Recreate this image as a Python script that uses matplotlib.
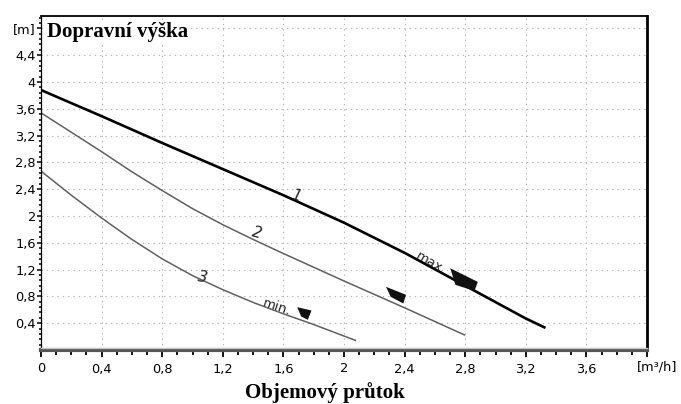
import numpy as np
import matplotlib
matplotlib.use("Agg")
import matplotlib.pyplot as plt
from matplotlib.path import Path
from matplotlib.ticker import MultipleLocator

# pump curves: flow [m3/h] -> head [m]
q1 = [0, 0.4, 0.8, 1.2, 1.6, 2.0, 2.4, 2.8, 3.2, 3.33]
h1 = [3.88, 3.49, 3.09, 2.70, 2.31, 1.90, 1.45, 0.96, 0.47, 0.33]
q2 = [0, 0.2, 0.4, 0.6, 0.8, 1.0, 1.2, 1.4, 1.6, 2.0, 2.4, 2.8]
h2 = [3.54, 3.25, 2.96, 2.66, 2.38, 2.11, 1.87, 1.65, 1.44, 1.03, 0.63, 0.22]
q3 = [0, 0.2, 0.4, 0.6, 0.8, 1.0, 1.2, 1.4, 1.6, 1.8, 2.08]
h3 = [2.67, 2.31, 1.97, 1.65, 1.36, 1.11, 0.90, 0.71, 0.54, 0.38, 0.14]

# operating point markers (max, curve 2, min)
mark_q = [2.795, 2.343, 1.734]
mark_h = [1.036, 0.825, 0.552]

x_ticks = [0, 0.4, 0.8, 1.2, 1.6, 2.0, 2.4, 2.8, 3.2, 3.6, 4.0]
x_labels = ["0", "0,4", "0,8", "1,2", "1,6", "2", "2,4", "2,8", "3,2", "3,6", ""]
y_ticks = [0.4, 0.8, 1.2, 1.6, 2.0, 2.4, 2.8, 3.2, 3.6, 4.0, 4.4, 4.8]
y_labels = ["0,4", "0,8", "1,2", "1,6", "2", "2,4", "2,8", "3,2", "3,6", "4", "4,4", "[m]"]

DPI = 100
PT = 72.0 / DPI

fig = plt.figure(figsize=(6.81, 4.04), dpi=DPI)
ax = fig.add_axes([41 / 681, 1 - 350 / 404, 606 / 681, 334 / 404])
ax.set_xlim(0, 4.0)
ax.set_ylim(0, 4.985)

ax.plot(q3, h3, color="#606060", lw=1.1, solid_capstyle="butt")
ax.plot(q2, h2, color="#606060", lw=1.1, solid_capstyle="butt")
ax.plot(q1, h1, color="black", lw=1.9, solid_capstyle="butt")

# trapezoid marker shapes in pixels relative to centre (y up)
shapes = [
    [(-14.3, 13.3), (13.3, -0.4), (10.0, -9.4), (-9.0, -3.4)],
    [(-10.5, 8.7), (9.5, 0.7), (6.8, -8.0), (-5.8, -1.3)],
    [(-7.3, 6.3), (7.0, 3.0), (3.3, -6.3), (-3.3, -3.0)],
]
for mq, mh, shp in zip(mark_q, mark_h, shapes):
    v = np.array(shp + [shp[0]]) * PT
    codes = [Path.MOVETO] + [Path.LINETO] * (len(shp) - 1) + [Path.CLOSEPOLY]
    size = 2 * np.abs(v).max()
    ax.plot([mq], [mh], ls="none", marker=Path(v, codes), markersize=size,
            color="#111111", markeredgewidth=0, zorder=4)

num_kw = dict(fontsize=11, color="#222222", ha="center", va="center", style="italic")
ax.text(1.684, 2.30, "1", rotation=-15, **num_kw)
ax.text(1.424, 1.75, "2", rotation=-15, **num_kw)
ax.text(1.068, 1.09, "3", rotation=-10, **num_kw)
lab_kw = dict(fontsize=9.5, color="#222222", ha="center", va="center")
ax.text(2.57, 1.30, "max.", rotation=-30, **lab_kw)
ax.text(1.556, 0.64, "min.", rotation=-18, **lab_kw)

ax.set_xticks(x_ticks)
ax.set_xticklabels(x_labels, fontsize=9.3)
ax.set_yticks(y_ticks)
ax.set_yticklabels(y_labels, fontsize=9.3)
ax.xaxis.set_minor_locator(MultipleLocator(0.1))
ax.yaxis.set_minor_locator(MultipleLocator(0.08))
ax.tick_params(axis="x", which="major", length=5, width=1.3, pad=4, colors="black")
ax.tick_params(axis="x", which="minor", length=3.5, width=1.3)
ax.tick_params(axis="y", which="major", length=3.2, width=1.1, pad=0.5)
ax.tick_params(axis="y", which="minor", length=1.8, width=1.1)

ax.grid(True, which="major", color="#b4b4b4", lw=0.8, linestyle=(0, (1.2, 3.6)))
ax.set_axisbelow(True)

ax.spines["left"].set_linewidth(0.9)
ax.spines["top"].set_linewidth(1.3)
ax.spines["right"].set_linewidth(2.0)
ax.spines["bottom"].set_linewidth(3.0)
ax.spines["bottom"].set_color("#555555")
ax.axhline(0.03, color="#c8c8c8", lw=0.9, zorder=5, clip_on=False)

ax.text(0.01, 0.937, "Dopravní výška", transform=ax.transAxes,
        family="Liberation Serif", weight="bold", fontsize=15,
        va="baseline", ha="left", zorder=6,
        bbox=dict(facecolor="white", edgecolor="none", pad=1.5))
fig.text(325 / 681, 6 / 404, "Objemový průtok", family="Liberation Serif",
         weight="bold", fontsize=15, ha="center", va="baseline")
fig.text(637 / 681, 1 - 361 / 404, "[m³/h]", fontsize=9.3, ha="left", va="top")

fig.savefig("out.png", dpi=DPI)
plt.close(fig)
